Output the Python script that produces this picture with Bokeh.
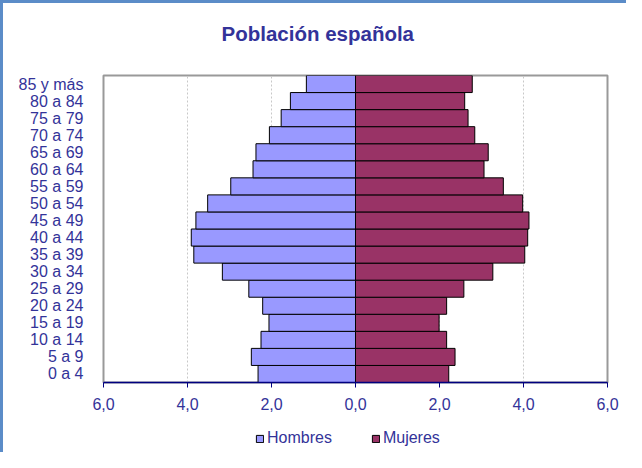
from bokeh.plotting import figure
from bokeh.models import FactorRange, FixedTicker, Legend, LegendItem, Range1d, Label
from bokeh.layouts import column
from bokeh.embed import file_html
from bokeh.resources import INLINE

# ---- data ----
age_groups = ["0 a 4", "5 a 9", "10 a 14", "15 a 19", "20 a 24", "25 a 29",
              "30 a 34", "35 a 39", "40 a 44", "45 a 49", "50 a 54", "55 a 59",
              "60 a 64", "65 a 69", "70 a 74", "75 a 79", "80 a 84", "85 y más"]
hombres = [2.32, 2.48, 2.25, 2.06, 2.21, 2.54, 3.17, 3.85, 3.91, 3.80, 3.52, 2.97,
           2.44, 2.37, 2.05, 1.77, 1.55, 1.17]
mujeres = [2.22, 2.37, 2.17, 1.99, 2.17, 2.58, 3.27, 4.03, 4.10, 4.13, 3.98, 3.52,
           3.06, 3.16, 2.84, 2.68, 2.60, 2.78]
x_ticks = [-6, -4, -2, 0, 2, 4, 6]
x_tick_labels = ["6,0", "4,0", "2,0", "0,0", "2,0", "4,0", "6,0"]
title_text = "Población española"
series_names = ["Hombres", "Mujeres"]

TXT = "#333399"
FONT = "Liberation Sans"
MEN = "#9999FF"
WOMEN = "#993366"


def strip(height):
    f = figure(width=623, height=height, output_backend="svg", toolbar_location=None,
               x_range=Range1d(0, 504), y_range=Range1d(0, height), min_border=0)
    f.axis.visible = False
    f.grid.grid_line_color = None
    f.outline_line_color = None
    return f


# title strip
pt = strip(50)
pt.add_layout(Label(x=118, y=20, text=title_text, text_color=TXT, text_font=FONT,
                    text_font_size="20.5px", text_font_style="bold",
                    text_align="left", text_baseline="middle"))

# main chart
p = figure(width=623, height=369, output_backend="svg", toolbar_location=None,
           y_range=FactorRange(*age_groups, range_padding=0),
           x_range=Range1d(-6, 6),
           min_border_left=100, min_border_top=22, min_border_right=19,
           min_border_bottom=40)

neg = [-v for v in hombres]
p.hbar(y=age_groups, left=neg, right=0, height=1.0, fill_color=MEN,
       line_color="black", line_width=1)
p.hbar(y=age_groups, left=0, right=mujeres, height=1.0, fill_color=WOMEN,
       line_color="black", line_width=1)

p.outline_line_color = "#999999"
p.outline_line_width = 2

xa = p.xaxis[0]
xa.ticker = FixedTicker(ticks=x_ticks)
xa.major_label_overrides = {t: l for t, l in zip(x_ticks, x_tick_labels)}
xa.axis_line_color = "#000080"
xa.axis_line_width = 1.5
xa.major_tick_line_color = "#000080"
xa.major_tick_out = 5
xa.major_tick_in = 0
xa.minor_tick_line_color = None
xa.major_label_text_color = TXT
xa.major_label_text_font = FONT
xa.major_label_text_font_size = "16px"
xa.major_label_standoff = 10

ya = p.yaxis[0]
ya.axis_line_color = None
ya.major_tick_line_color = None
ya.minor_tick_line_color = None
ya.major_label_text_color = TXT
ya.major_label_text_font = FONT
ya.major_label_text_font_size = "16px"
ya.major_label_standoff = 14

p.ygrid.grid_line_color = None
p.xgrid.grid_line_color = "#c8c8c8"
p.xgrid.grid_line_dash = "2 2"
p.xgrid.grid_line_width = 1

# legend strip below the chart (swatch proxies sit outside the visible range)
pl = strip(30)
l1 = pl.quad(left=[-20], right=[-10], top=[-10], bottom=[-20], fill_color=MEN,
             line_color="black")
l2 = pl.quad(left=[-20], right=[-10], top=[-10], bottom=[-20], fill_color=WOMEN,
             line_color="black")
legend = Legend(items=[LegendItem(label=series_names[0], renderers=[l1]),
                       LegendItem(label=series_names[1], renderers=[l2])],
                orientation="horizontal", location=(152, 5),
                glyph_width=9, glyph_height=9, label_standoff=3, spacing=39,
                label_text_color=TXT, label_text_font=FONT,
                label_text_font_size="16px", border_line_color=None,
                background_fill_alpha=0, margin=0, padding=0)
pl.add_layout(legend, "center")

layout = column(pt, p, pl, spacing=0,
                styles={"border-left": "3px solid #5b8cc8",
                        "border-top": "3px solid #5b8cc8"})

open("out.html", "w").write(file_html(layout, INLINE))
